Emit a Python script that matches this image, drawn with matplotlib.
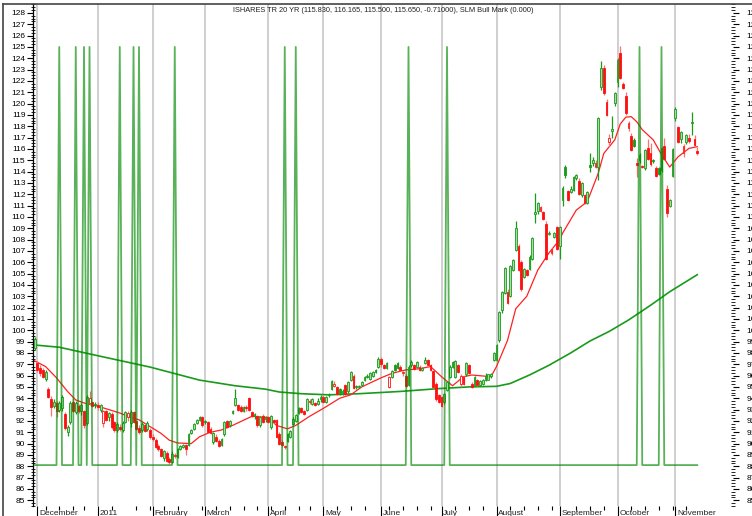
import numpy as np
import pandas as pd
import matplotlib
matplotlib.use("Agg")
import matplotlib.pyplot as plt
import matplotlib.transforms as mtransforms
from matplotlib.lines import Line2D
from matplotlib.ticker import MultipleLocator

plt.rcParams['font.family'] = ['Liberation Sans', 'DejaVu Sans']

title = "ISHARES TR 20 YR (115.830, 116.165, 115.500, 115.650, -0.71000), SLM Bull Mark (0.000)"

holidays = ['2010-12-24', '2011-01-17', '2011-02-21', '2011-04-22',
            '2011-05-30', '2011-07-04', '2011-09-05']
month_names = ['December', '2011', 'February', 'March', 'April', 'May', 'June',
               'July', 'August', 'September', 'October', 'November']

# daily OHLC, one row per month
opens = [98.4,
    97.1, 96.7, 96.5, 95.7, 94.8, 93.9, 93.3, 93.6, 93.0, 93.1, 92.6, 91.0, 91.9, 93.7, 92.8, 93.3, 92.9, 92.9, 91.8, 93.6, 93.7, 93.5,
    93.4, 93.0, 91.8, 92.9, 92.3, 92.6, 91.9, 91.2, 91.5, 91.2, 91.9, 92.3, 91.8, 92.8, 92.0, 91.4, 91.2, 91.6, 91.3, 91.2,
    90.6, 90.3, 89.8, 89.5, 88.7, 89.2, 88.6, 88.4, 88.9, 88.8, 89.5, 89.7, 89.9, 89.9, 90.9, 91.3, 91.8, 92.1, 92.3,
    92.0, 91.9, 91.3, 90.1, 90.6, 90.2, 89.9, 90.8, 92.0, 91.6, 92.7, 93.4, 93.4, 93.2, 92.9, 93.2, 94.0, 92.8, 92.4, 92.4, 91.6, 92.4, 92.2,
    92.3, 91.5, 92.1, 92.1, 90.8, 90.1, 89.7, 90.2, 90.6, 91.7, 92.0, 92.7, 93.1, 92.9, 93.0, 93.7, 93.5, 93.6, 93.5, 93.9,
    94.1, 93.7, 94.3, 94.8, 95.1, 95.0, 94.8, 94.5, 95.2, 94.6, 95.6, 96.0, 95.0, 95.0, 95.2, 95.6, 95.9, 95.7, 96.0, 96.5, 96.8,
    97.5, 96.9, 96.7, 95.0, 95.9, 96.9, 97.1, 96.8, 96.2, 96.0, 95.2, 96.9, 96.9, 96.8, 96.8, 96.5, 97.1, 97.4, 96.9, 96.4, 95.3, 94.3,
    94.1, 93.7, 94.7, 95.9, 96.8, 95.9, 96.9, 95.3, 95.9, 96.1, 96.9, 95.3, 95.2, 95.6, 95.2, 95.3, 95.6, 95.6, 96.0, 97.4,
    97.4, 99.1, 101.8, 103.3, 103.4, 103.0, 105.3, 107.1, 107.4, 106.0, 104.7, 105.3, 105.4, 106.3, 110.3, 110.5, 110.5, 110.4, 109.4, 108.5, 106.8, 108.2, 109.1,
    107.4, 111.5, 114.4, 112.3, 112.2, 112.4, 113.4, 113.2, 111.9, 111.9, 111.2, 114.6, 114.8, 114.4, 114.4, 121.5, 123.1, 120.1, 116.6, 117.6, 120.05,
    121.9, 124.5, 121.7, 120.7, 117.85, 117.1, 116.8, 114.8, 115.0, 114.5, 114.3, 116.1, 115.6, 115.0, 114.3, 114.3, 114.1, 116.3, 112.5, 111.0, 113.6,
    118.75, 117.9, 116.9, 115.6, 116.6, 117.0, 118.3, 116.9, 115.83]
highs = [99.4,
    97.3, 96.9, 96.7, 96.5, 95.0, 94.2, 93.9, 93.8, 93.8, 94.3, 92.8, 91.6, 93.8, 94.0, 93.8, 93.5, 93.6, 93.0, 94.3, 94.6, 93.8, 93.7,
    93.7, 93.5, 93.0, 93.0, 92.8, 92.8, 92.0, 91.9, 91.7, 92.0, 92.9, 92.9, 93.0, 92.9, 92.1, 91.6, 91.9, 91.8, 92.0, 91.4,
    90.8, 90.5, 90.0, 89.6, 89.4, 89.3, 88.8, 89.3, 89.2, 89.6, 89.9, 90.0, 90.0, 90.9, 91.3, 91.8, 92.2, 92.4, 92.4,
    92.1, 92.0, 91.5, 91.0, 90.8, 90.4, 90.5, 92.0, 92.1, 92.1, 93.0, 94.8, 93.5, 93.4, 93.3, 93.4, 94.1, 92.9, 92.7, 92.5, 92.4, 92.6, 92.4,
    92.4, 92.5, 92.2, 92.2, 91.0, 90.3, 89.9, 90.9, 91.2, 92.3, 92.6, 93.2, 93.2, 93.0, 94.0, 93.9, 94.0, 93.7, 94.0, 94.3,
    94.3, 94.2, 94.5, 95.6, 95.5, 95.1, 94.9, 94.8, 95.3, 95.5, 96.4, 96.1, 95.2, 95.2, 95.5, 96.0, 96.1, 96.3, 96.4, 96.6, 97.6,
    97.6, 97.0, 97.2, 96.0, 96.5, 97.0, 97.2, 96.9, 96.4, 96.1, 96.9, 97.4, 97.0, 97.3, 96.9, 96.8, 97.6, 97.5, 97.0, 96.5, 95.4, 94.4,
    94.2, 94.5, 95.5, 96.9, 97.3, 97.4, 97.0, 96.1, 96.0, 97.2, 97.0, 95.4, 96.0, 95.7, 95.6, 95.7, 96.2, 96.1, 96.2, 98.1,
    98.8, 101.7, 103.5, 105.6, 103.6, 105.8, 106.3, 109.6, 107.6, 106.2, 105.5, 105.4, 106.6, 108.2, 112.1, 111.3, 111.0, 110.5, 109.6, 108.8, 107.3, 108.7, 109.2,
    109.2, 112.7, 114.6, 112.4, 112.7, 113.6, 113.8, 113.4, 113.1, 112.0, 112.3, 115.6, 115.3, 115.0, 118.8, 123.8, 123.4, 120.4, 117.3, 118.9, 121.0,
    124.0, 125.1, 121.9, 121.0, 118.5, 117.4, 117.0, 115.2, 115.6, 114.6, 116.0, 116.9, 116.5, 115.1, 114.5, 114.4, 116.2, 117.0, 112.8, 111.6, 116.1,
    119.7, 118.0, 117.6, 116.4, 117.3, 117.3, 119.3, 117.2, 116.165]
lows = [98.3,
    96.3, 96.0, 95.8, 95.5, 94.0, 92.4, 93.1, 92.3, 92.8, 92.9, 91.2, 90.7, 91.7, 92.8, 92.6, 92.7, 92.5, 91.4, 91.6, 93.4, 93.2, 93.1,
    93.0, 92.8, 91.5, 92.0, 92.0, 91.3, 91.0, 91.0, 91.1, 91.0, 91.8, 92.0, 91.5, 91.8, 91.2, 90.8, 91.0, 91.0, 91.1, 90.4,
    90.2, 89.6, 89.3, 88.8, 88.5, 88.4, 88.2, 88.3, 88.7, 88.7, 89.4, 89.6, 89.0, 89.8, 90.8, 91.2, 91.7, 92.0, 91.5,
    91.7, 90.9, 90.8, 90.0, 90.1, 89.7, 89.8, 90.7, 91.4, 91.5, 92.6, 93.3, 92.9, 92.8, 92.8, 92.9, 92.9, 92.3, 92.2, 91.5, 91.5, 91.8, 91.9,
    91.8, 91.3, 91.8, 90.5, 89.9, 89.7, 89.5, 90.1, 90.5, 91.6, 91.9, 92.6, 92.7, 92.5, 92.9, 93.5, 93.4, 93.3, 93.4, 93.7,
    93.6, 93.6, 94.1, 94.7, 95.0, 94.3, 94.3, 94.3, 94.2, 94.5, 95.5, 94.8, 94.8, 94.9, 95.1, 95.5, 95.8, 95.6, 95.9, 96.2, 96.7,
    96.8, 96.6, 96.6, 94.9, 95.8, 96.4, 96.6, 96.4, 96.0, 95.0, 95.1, 96.8, 96.5, 96.7, 96.4, 96.4, 97.0, 96.8, 96.4, 94.9, 93.8, 93.6,
    93.2, 93.5, 94.6, 95.8, 96.7, 95.8, 96.2, 95.1, 95.2, 96.0, 96.1, 94.9, 95.1, 95.1, 95.1, 95.2, 95.5, 95.8, 95.8, 97.3,
    97.3, 99.0, 101.5, 103.2, 102.3, 102.9, 105.2, 107.0, 105.2, 103.5, 104.6, 104.8, 105.3, 106.2, 109.5, 110.3, 110.4, 109.7, 106.2, 108.4, 106.6, 108.1, 107.1,
    106.3, 111.0, 113.4, 111.4, 112.1, 112.3, 113.3, 111.9, 111.8, 111.1, 111.1, 114.0, 114.5, 114.3, 113.3, 121.2, 120.8, 118.9, 116.3, 117.0, 119.8,
    121.5, 122.2, 121.3, 119.0, 117.6, 115.8, 116.2, 113.5, 114.8, 114.3, 114.1, 115.0, 114.5, 114.8, 113.5, 113.7, 114.0, 115.0, 110.0, 110.9, 113.5,
    118.5, 116.5, 116.5, 115.3, 116.4, 116.5, 117.2, 116.2, 115.5]
closes = [99.2,
    96.5, 96.2, 95.9, 96.3, 94.1, 93.2, 93.7, 92.9, 93.6, 94.1, 91.4, 91.5, 93.6, 92.9, 93.6, 92.9, 93.4, 91.6, 94.1, 94.0, 93.3, 93.4,
    93.2, 93.4, 92.9, 92.1, 92.7, 91.5, 91.2, 91.7, 91.3, 91.8, 92.8, 92.7, 92.8, 91.9, 91.3, 91.0, 91.7, 91.1, 91.8, 90.6,
    90.4, 89.7, 89.5, 88.9, 89.3, 88.5, 88.4, 89.1, 89.0, 89.5, 89.8, 89.9, 89.5, 90.8, 91.2, 91.7, 92.1, 92.3, 91.6,
    91.9, 91.0, 90.9, 90.9, 90.2, 89.8, 90.4, 91.9, 91.5, 92.0, 92.9, 94.0, 93.0, 92.9, 93.2, 93.1, 93.0, 92.4, 92.6, 91.6, 92.3, 91.9, 92.3,
    91.9, 92.4, 91.9, 90.6, 90.0, 89.9, 89.8, 90.8, 91.1, 92.2, 92.5, 93.1, 92.8, 92.6, 93.9, 93.8, 93.9, 93.4, 93.8, 94.1,
    93.7, 94.1, 94.4, 95.5, 95.3, 94.4, 94.5, 94.6, 94.4, 95.4, 96.3, 94.9, 95.0, 95.1, 95.4, 95.9, 96.0, 96.2, 96.3, 96.3, 97.5,
    97.0, 96.7, 97.1, 95.9, 96.4, 96.5, 96.7, 96.5, 96.3, 95.1, 96.8, 97.2, 96.6, 97.2, 96.5, 96.7, 97.4, 96.9, 96.5, 95.0, 93.9, 93.7,
    93.3, 94.4, 95.4, 96.8, 97.2, 97.3, 96.3, 96.0, 95.3, 97.1, 96.2, 95.0, 95.9, 95.2, 95.5, 95.6, 96.0, 96.1, 96.1, 98.0,
    98.7, 101.6, 103.4, 105.5, 102.4, 105.7, 106.2, 109.0, 105.3, 103.6, 105.4, 104.9, 106.5, 108.1, 110.4, 111.2, 110.9, 109.8, 106.3, 108.6, 107.2, 108.6, 107.2,
    109.1, 112.55, 113.7, 111.5, 112.5, 113.5, 113.7, 112.0, 113.0, 111.2, 112.2, 114.4, 115.0, 114.8, 118.7, 123.1, 120.9, 119.0, 117.0, 117.8, 120.9,
    123.85, 122.3, 121.4, 119.2, 118.3, 115.9, 116.3, 114.6, 115.5, 114.4, 115.9, 115.1, 114.7, 114.9, 113.6, 113.8, 116.1, 115.1, 110.35, 111.5, 116.0,
    119.5, 116.6, 117.5, 116.3, 117.2, 116.7, 118.3, 116.36, 115.65]

# red moving average, read at some bars (bar number, value)
fast_ma_bar = [0, 4, 8, 12, 15, 19, 23, 27, 31, 35, 38, 42, 46, 49, 52, 57, 60, 64, 68, 72, 79, 85, 88,
               92, 95, 100, 105, 111, 115, 119, 126, 130, 135, 140, 144, 148, 152, 156, 159, 166, 168,
               172, 175, 179, 183, 187, 191, 192, 197, 201, 205, 207, 211, 213, 215, 217, 219, 221, 225,
               228, 231, 234, 238, 241]
fast_ma_val = [97.3, 96.8, 95.8, 94.6, 93.85, 93.5, 93.3, 93.0, 92.7, 92.3, 92.1, 91.5, 90.9, 90.3, 90.05,
               90.0, 90.6, 91.0, 91.2, 91.6, 92.4, 92.3, 91.6, 91.3, 91.6, 92.4, 93.1, 94.0, 94.3, 95.0,
               95.8, 96.2, 96.5, 96.6, 96.8, 95.9, 95.1, 95.9, 96.05, 95.9, 96.8, 99.1, 101.9, 103.0,
               105.3, 106.8, 108.0, 108.55, 110.6, 111.35, 113.85, 115.6, 116.8, 118.2, 118.8, 118.85,
               118.4, 117.7, 116.8, 115.5, 114.4, 115.3, 116.05, 116.2]
# green long moving average
slow_ma_bar = [0, 9, 24, 42, 60, 73, 84, 89, 97, 107, 118, 133, 147, 158, 168, 173, 180, 187, 195,
               202, 209, 216, 224, 231, 241]
slow_ma_val = [98.7, 98.5, 97.7, 96.75, 95.6, 95.1, 94.8, 94.55, 94.4, 94.3, 94.4, 94.6, 94.85, 95.0,
               95.05, 95.3, 96.05, 96.9, 98.0, 99.05, 99.9, 100.9, 102.2, 103.4, 104.9]

# SLM Bull Mark = 1 on these bars, 0 elsewhere
bull_mark_bars = [9, 15, 18, 20, 31, 36, 38, 51, 91, 95, 136, 150, 220, 228]

dates = pd.bdate_range('2010-11-30', '2011-11-11')
dates = dates[~dates.isin(pd.to_datetime(holidays))]
n = len(dates)
bars = np.arange(n)
o = np.array(opens); h = np.array(highs); l = np.array(lows); c = np.array(closes)
prev = np.r_[c[0], c[:-1]]
up = c >= prev
hollow = c >= o

GREEN = '#1a9a1a'
face = np.where(up, np.where(hollow, '#a6dca6', GREEN), np.where(hollow, 'white', '#ff1010'))
edge = np.where(up, GREEN, '#ff1010')
wick = np.where(up, GREEN, '#ff7070')

fig = plt.figure(figsize=(7.52, 5.16), dpi=100)
ax = fig.add_axes([33/752, 10/516, 700/752, 502/516])
xlim = (-0.55, 254.0)

month_start = [i for i in range(1, n) if dates[i].month != dates[i-1].month]
for m in month_start:
    ax.axvline(m, color='#cccccc', lw=1.3, zorder=0)

ax.plot(slow_ma_bar, slow_ma_val, color=GREEN, lw=1.2, zorder=2)
ax.plot(fast_ma_bar, fast_ma_val, color='#ff2020', lw=0.9, zorder=2)

ax.vlines(bars, l, h, colors=wick, lw=0.9, zorder=3)
body = np.maximum(np.abs(c - o), 0.06)
ax.bar(bars, body, bottom=np.minimum(o, c), width=0.72, color=face,
       edgecolor=edge, linewidth=0.6, zorder=4)

# indicator on its own scale: 0 at 88.1, 1 at 125
ylo, yhi = 84.49, 128.79
base, top = 88.1, 125.0
ax2 = ax.twinx()
ax2.set_ylim((ylo - base) / (top - base), (yhi - base) / (top - base))
ax2.set_axis_off()
signal = np.zeros(n)
signal[bull_mark_bars] = 1
ax2.plot(bars, signal, color='#008800', lw=1.3, alpha=0.65, zorder=5)

ax.set_xlim(*xlim)
ax.set_ylim(ylo, yhi)
ax2.set_xlim(*xlim)

# price scale on both sides
ax.yaxis.set_major_locator(MultipleLocator(1))
ax.yaxis.set_minor_locator(MultipleLocator(0.25))
ax.tick_params(axis='y', which='major', direction='out', length=4, width=0.8,
               labelsize=6, pad=1.5, right=True, labelright=True)
ax.tick_params(axis='y', which='minor', direction='inout', length=3, width=0.6, right=True)
offset = mtransforms.ScaledTranslation(6/100, 0, fig.dpi_scale_trans)
for t in ax.yaxis.get_major_ticks():
    t.label2.set_transform(t.label2.get_transform() + offset)

# x axis: months and weeks
ax.set_xticks(month_start)
ax.set_xticklabels([])
ax.tick_params(axis='x', which='major', direction='out', length=9, width=0.8)
mondays = [i for i in range(n) if dates[i].weekday() == 0 and i not in month_start]
ax.set_xticks(mondays, minor=True)
ax.tick_params(axis='x', which='minor', direction='out', length=3, width=0.8)
for m, name in zip(month_start, month_names):
    ax.text(m + 0.6, -0.007, name, transform=ax.get_xaxis_transform(),
            ha='left', va='top', fontsize=6, color='#222222')

for s in ['right', 'bottom', 'top']:
    ax.spines[s].set_visible(False)
ax.spines['left'].set_linewidth(0.9)

ax.text(0.5, 0.995, title, transform=ax.transAxes, ha='center', va='top',
        fontsize=5.3, color='#222222')

# outer frame lines
fig.add_artist(Line2D([3/752, 3/752], [0, 512/516], color='#444444', lw=1.2))
fig.add_artist(Line2D([3/752, 1], [512/516, 512/516], color='#444444', lw=1.2))

fig.savefig('out.png', dpi=100)
